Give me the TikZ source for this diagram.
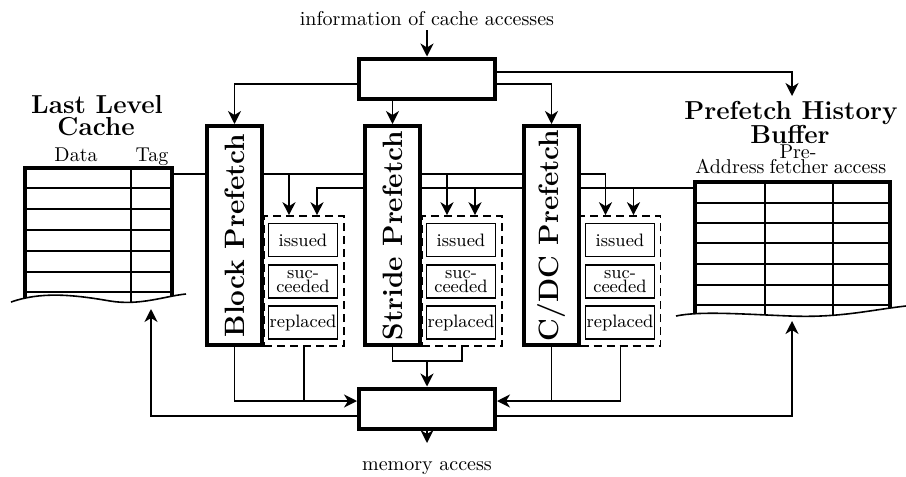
\documentclass[tikz,border=0pt]{standalone}
\usetikzlibrary{arrows.meta}
\pgfdeclarelayer{bg}
\pgfsetlayers{bg,main}
\begin{document}
\begin{tikzpicture}[x=0.5pt,y=-0.5pt,
  ln/.style={line width=0.8pt},
  arr/.style={ln,-{Stealth[length=6.5pt,width=6.5pt,inset=2pt]}},
  bigbox/.style={draw,line width=2pt,fill=white,inner sep=0pt,minimum width=68pt,minimum height=20pt},
  pfbox/.style={draw,line width=2pt,fill=white,inner sep=0pt,minimum width=27.5pt,minimum height=109.5pt},
  dbox/.style={draw,ln,dash pattern=on 4pt off 2.5pt,fill=white,inner sep=0pt,minimum width=40pt,minimum height=65pt},
  ibox/.style={draw,ln,fill=white,inner sep=0pt,minimum width=34.5pt,minimum height=16.5pt,align=center,font=\fontsize{9}{7.4}\selectfont},
  pflabel/.style={rotate=90,inner sep=0pt,font=\bfseries\fontsize{14}{16}\selectfont},
  titletext/.style={anchor=base,inner sep=0pt,font=\bfseries\fontsize{13}{15}\selectfont},
  head/.style={anchor=base,inner sep=0pt,font=\fontsize{10}{12}\selectfont},
  tthick/.style={line width=1.9pt},
  tthin/.style={line width=0.8pt},
]
\useasboundingbox (0,0) rectangle (906,477);

% central boxes
\node[bigbox] (top) at (427,78.5) {};
\node[bigbox] (mem) at (427,408.5) {};
\node[anchor=base,inner sep=0pt,font=\fontsize{10}{12}\selectfont] (info) at (427,25) {information of cache accesses};
\node[anchor=base,inner sep=0pt,font=\fontsize{10}{12}\selectfont] (memtxt) at (427,470) {memory access};
\coordinate (memout) at (427,443);

% dashed boxes
\node[dbox] (bd) at (304,281) {};
\node[dbox] (sd) at (462,281) {};
\node[dbox] (cd) at (620.5,281) {};

% inner boxes
\foreach \n/\x in {b/303,s/461,c/620}{
  \node[ibox] (\n iss) at (\x,240) {issued};
  \node[ibox] (\n suc) at (\x,281.5) {suc-\\ceeded};
  \node[ibox] (\n rep) at (\x,322.5) {replaced};
}

% prefetch boxes
\node[pfbox] (block) at (234.5,235.5) {};
\node[pflabel] (blocklbl) at (block) {Block Prefetch};
\node[pfbox] (stride) at (392.5,235.5) {};
\node[pflabel] (stridelbl) at (stride) {Stride Prefetch};
\node[pfbox] (cdc) at (551.5,235.5) {};
\node[pflabel] (cdclbl) at (cdc) {C/DC Prefetch};

% Last Level Cache table
\node[titletext] (llct1) at (97,113) {Last Level};
\node[titletext] (llct2) at (96,135) {Cache};
\node[head] (hdata) at (76,161) {Data};
\node[head] (htag) at (152,161) {Tag};
\begin{scope}
  \clip (0,150) -- (200,150) -- (200,294) -- (186,294) .. controls (165,296) and (140,306) .. (110,301) .. controls (70,294) and (40,292) .. (11,302) -- (0,302) -- cycle;
  \foreach \y in {188,209,230,251,272,292} \draw[tthin] (25,\y) -- (172,\y);
  \draw[tthin] (131,168) -- (131,320);
  \draw[tthick] (25,320) -- (25,168) -- (172,168) -- (172,320);
\end{scope}
\draw[tthin] (11,302) .. controls (40,292) and (70,294) .. (110,301) .. controls (140,306) and (165,296) .. (186,294);
\coordinate (llcR) at (172,174);
\coordinate (llcB) at (151,309);

% Prefetch History Buffer table
\node[titletext] (phbt1) at (791,119) {Prefetch History};
\node[titletext] (phbt2) at (790,143) {Buffer};
\node[head] (haddr) at (730,173) {Address};
\node[head] (hpre) at (798,158) {Pre-};
\node[head] (hfet) at (799,173) {fetcher};
\node[head] (hacc) at (860,173) {access};
\begin{scope}
  \clip (660,150) -- (906,150) -- (906,306) .. controls (870,310) and (840,318) .. (790,316) .. controls (740,314) and (700,311) .. (676,316) -- (660,316) -- cycle;
  \foreach \y in {203,223,243,264,285,305} \draw[tthin] (695,\y) -- (890,\y);
  \draw[tthin] (765,182) -- (765,330);
  \draw[tthin] (833,182) -- (833,330);
  \draw[tthick] (695,330) -- (695,182) -- (890,182) -- (890,330);
\end{scope}
\draw[tthin] (676,316) .. controls (700,311) and (740,314) .. (790,316) .. controls (840,318) and (870,310) .. (906,306);
\coordinate (phbL) at (695,188);
\coordinate (phbB) at (792,321);
\coordinate (phbin) at (792,96);

% arrow targets on dashed boxes
\coordinate (b1) at ([xshift=-7.5pt]bd.north);
\coordinate (b2) at ([xshift=6.5pt]bd.north);
\coordinate (s1) at ([xshift=-7.5pt]sd.north);
\coordinate (s2) at ([xshift=6.5pt]sd.north);
\coordinate (c1) at ([xshift=-7.5pt]cd.north);
\coordinate (c2) at ([xshift=6.5pt]cd.north);
\coordinate (memL) at ([yshift=3.75pt]mem.west);
\coordinate (memR) at ([yshift=3.75pt]mem.east);
\coordinate (sjoin) at (427,361);

\begin{pgfonlayer}{bg}
  % top
  \draw[arr] ([yshift=-2.5pt]info.base) -- (top.north);
  \draw[arr] ([yshift=-2.75pt]top.west) -| (block.north);
  \draw[arr] (top.south -| stride.north) -- (stride.north);
  \draw[arr] ([yshift=-2.75pt]top.east) -| (cdc.north);
  \draw[arr] ([yshift=3.25pt]top.east) -| (phbin);
  % buses
  \draw[arr] (llcR) -| (c1);
  \draw[arr] (phbL) -| (b2);
  \draw[arr] (b1 |- llcR) -- (b1);
  \draw[arr] (s1 |- llcR) -- (s1);
  \draw[arr] (s2 |- phbL) -- (s2);
  \draw[arr] (c2 |- phbL) -- (c2);
  % bottom
  \draw[arr] (block.south) |- (memL);
  \draw[ln] (bd.south) -- (bd.south |- memL);
  \draw[arr] (cd.south) |- (memR);
  \draw[ln] (cdc.south) -- (cdc.south |- memR);
  \draw[ln] (stride.south) |- (sjoin) -| (sd.south);
  \draw[arr] (sjoin) -- (mem.north);
  \draw[arr] ([yshift=-3.75pt]mem.west) -| (llcB);
  \draw[arr] ([yshift=-3.75pt]mem.east) -| (phbB);
  \draw[arr] (mem.south) -- (memout);
\end{pgfonlayer}
\end{tikzpicture}
\end{document}
